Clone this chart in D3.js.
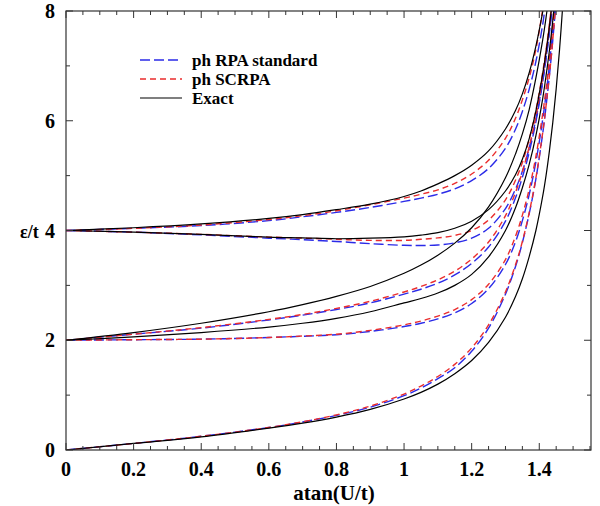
<!DOCTYPE html>
<html><head><meta charset="utf-8">
<script src="https://cdn.jsdelivr.net/npm/d3@7"></script>
<style>body{margin:0;background:#fff}svg{display:block}
text{font-family:"Liberation Serif","Times New Roman",Times,serif;font-weight:bold}</style>
</head><body><svg id="c" width="600" height="506"></svg>
<script>
// ---- data (x = atan(U/t), y = eps/t) ----
const xGrid = [0,0.2,0.4,0.6,0.7,0.8,0.9,1.0,1.05,1.1,1.15,1.2,1.25,1.3,1.33,1.35,1.37,1.39,1.41,1.42,1.43,1.44,1.45,1.46,1.47];
const exact0  = [0,0.12,0.24,0.40,0.49,0.60,0.74,0.93,1.05,1.20,1.39,1.63,1.96,2.42,2.80,3.12,3.52,4.00,4.62,5.00,5.45,5.97,6.58,7.30,8.15];
const exact2a = [2,2.14,2.31,2.52,2.65,2.80,2.98,3.22,3.37,3.55,3.77,4.05,4.43,4.96,5.40,5.76,6.20,6.78,7.47,7.88,8.35];
const exact2b = [2,2.06,2.14,2.24,2.31,2.40,2.52,2.68,2.76,2.86,3.00,3.20,3.52,4.00,4.42,4.78,5.20,5.73,6.40,6.82,7.28,7.83,8.48];
const exact4a = [4,4.05,4.12,4.22,4.29,4.38,4.48,4.62,4.72,4.85,5.00,5.19,5.45,5.85,6.19,6.49,6.87,7.36,7.98,8.35];
const exact4b = [4,3.97,3.93,3.88,3.866,3.85,3.86,3.885,3.915,3.96,4.04,4.17,4.38,4.72,5.02,5.30,5.67,6.18,6.85,7.25,7.72,8.27];
const rpa0    = [0,0.12,0.25,0.41,0.51,0.63,0.78,0.99,1.13,1.30,1.50,1.80,2.22,2.84,3.35,3.78,4.30,4.94,5.76,6.26,6.82,7.47,8.20];
const rpa2a   = [2,2.11,2.22,2.37,2.457,2.56,2.68,2.84,2.93,3.04,3.19,3.40,3.70,4.17,4.60,4.97,5.42,5.98,6.70,7.14,7.64,8.20];
const rpa2b   = [2,2.01,2.02,2.05,2.073,2.10,2.16,2.25,2.31,2.39,2.50,2.67,2.94,3.38,3.80,4.18,4.65,5.25,6.02,6.48,7.02,7.65,8.35];
const rpa4a   = [4,4.04,4.09,4.18,4.25,4.33,4.42,4.53,4.59,4.66,4.76,4.91,5.13,5.50,5.85,6.17,6.57,7.08,7.75,8.20];
const rpa4b   = [4,3.97,3.92,3.86,3.833,3.80,3.76,3.73,3.727,3.735,3.775,3.86,4.04,4.40,4.76,5.08,5.50,6.03,6.72,7.13,7.60,8.15];
const scrpa0  = [0,0.12,0.25,0.41,0.515,0.64,0.80,1.02,1.166,1.34,1.56,1.86,2.28,2.88,3.38,3.80,4.32,4.96,5.78,6.27,6.83,7.48,8.22];
const scrpa2a = [2,2.11,2.23,2.38,2.47,2.58,2.71,2.88,2.98,3.10,3.26,3.48,3.79,4.27,4.70,5.07,5.52,6.08,6.80,7.24,7.74,8.30];
const scrpa2b = [2,2.01,2.02,2.05,2.077,2.11,2.18,2.28,2.35,2.44,2.56,2.74,3.02,3.47,3.90,4.28,4.75,5.35,6.12,6.58,7.12,7.75,8.45];
const scrpa4a = [4,4.04,4.10,4.20,4.27,4.36,4.47,4.59,4.66,4.74,4.86,5.03,5.28,5.68,6.05,6.38,6.78,7.30,8.02];
const scrpa4b = [4,3.97,3.93,3.88,3.862,3.84,3.82,3.82,3.84,3.865,3.91,4.00,4.19,4.56,4.92,5.24,5.66,6.19,6.88,7.29,7.76,8.30];
const xTickVals = [0,0.2,0.4,0.6,0.8,1,1.2,1.4];
const xTickLabels = ["0","0.2","0.4","0.6","0.8","1","1.2","1.4"];
const yTickVals = [0,2,4,6,8];
const yTickLabels = ["0","2","4","6","8"];
const legendNames = ["ph RPA standard","ph SCRPA","Exact"];

// ---- layout ----
const svg = d3.select("#c");
const L=66, R=591, T=11, B=450;
const x = d3.scaleLinear().domain([0,1.553]).range([L,R]);
const y = d3.scaleLinear().domain([0,8]).range([B,T]);

svg.append("defs").append("clipPath").attr("id","clip")
  .append("rect").attr("x",L).attr("y",T).attr("width",R-L).attr("height",B-T);

const line = d3.line().x(d=>x(d[0])).y(d=>y(d[1])).curve(d3.curveCatmullRom.alpha(0.5));
const g = svg.append("g").attr("clip-path","url(#clip)");
const styles = {
  exact:{c:"#000",w:1.2,da:null},
  rpa:{c:"#2b2be8",w:1.4,da:"10,4"},
  sc:{c:"#ea2d2d",w:1.4,da:"6,4"}
};
function draw(vals,s){
  const data = vals.map((v,i)=>[xGrid[i],v]);
  g.append("path").datum(data).attr("d",line).attr("fill","none")
   .attr("stroke",s.c).attr("stroke-width",s.w).attr("stroke-dasharray",s.da);
}
[rpa0,rpa2a,rpa2b,rpa4a,rpa4b].forEach(d=>draw(d,styles.rpa));
[scrpa0,scrpa2a,scrpa2b,scrpa4a,scrpa4b].forEach(d=>draw(d,styles.sc));
[exact0,exact2a,exact2b,exact4a,exact4b].forEach(d=>draw(d,styles.exact));

// frame
svg.append("rect").attr("x",L).attr("y",T).attr("width",R-L).attr("height",B-T)
  .attr("fill","none").attr("stroke","#333").attr("stroke-width",1.2);

// ticks
d3.range(0,1.5501,0.05).forEach(v=>{
  const major = Math.abs(v/0.2-Math.round(v/0.2))<1e-6;
  const len = major?7:4;
  svg.append("line").attr("x1",x(v)).attr("x2",x(v)).attr("y1",B).attr("y2",B-len).attr("stroke","#333");
  svg.append("line").attr("x1",x(v)).attr("x2",x(v)).attr("y1",T).attr("y2",T+len).attr("stroke","#333");
});
d3.range(0,8.01,1).forEach(v=>{
  const len = (v%2===0)?7:4;
  svg.append("line").attr("x1",L).attr("x2",L+len).attr("y1",y(v)).attr("y2",y(v)).attr("stroke","#333");
  svg.append("line").attr("x1",R).attr("x2",R-len).attr("y1",y(v)).attr("y2",y(v)).attr("stroke","#333");
});
// tick labels
svg.append("g").selectAll("text").data(xTickVals).join("text")
  .attr("x",d=>x(d)).attr("y",B+26).attr("text-anchor","middle").attr("font-size",20)
  .text((d,i)=>xTickLabels[i]);
svg.append("g").selectAll("text").data(yTickVals).join("text")
  .attr("x",L-11).attr("y",d=>y(d)+7).attr("text-anchor","end").attr("font-size",20)
  .text((d,i)=>yTickLabels[i]);
// axis titles
svg.append("text").attr("x",334).attr("y",500).attr("text-anchor","middle")
  .attr("font-size",21).text("atan(U/t)");
svg.append("text").attr("x",20).attr("y",238).attr("font-size",18).text("ε/t");

// legend
const lStyles=[styles.rpa,styles.sc,styles.exact];
legendNames.forEach((n,i)=>{
  const yy = 60+i*19;
  svg.append("line").attr("x1",140).attr("x2",182).attr("y1",yy).attr("y2",yy)
    .attr("stroke",lStyles[i].c).attr("stroke-width",lStyles[i].w).attr("stroke-dasharray",lStyles[i].da);
  svg.append("text").attr("x",192).attr("y",yy+6).attr("font-size",17).text(n);
});
</script></body></html>
